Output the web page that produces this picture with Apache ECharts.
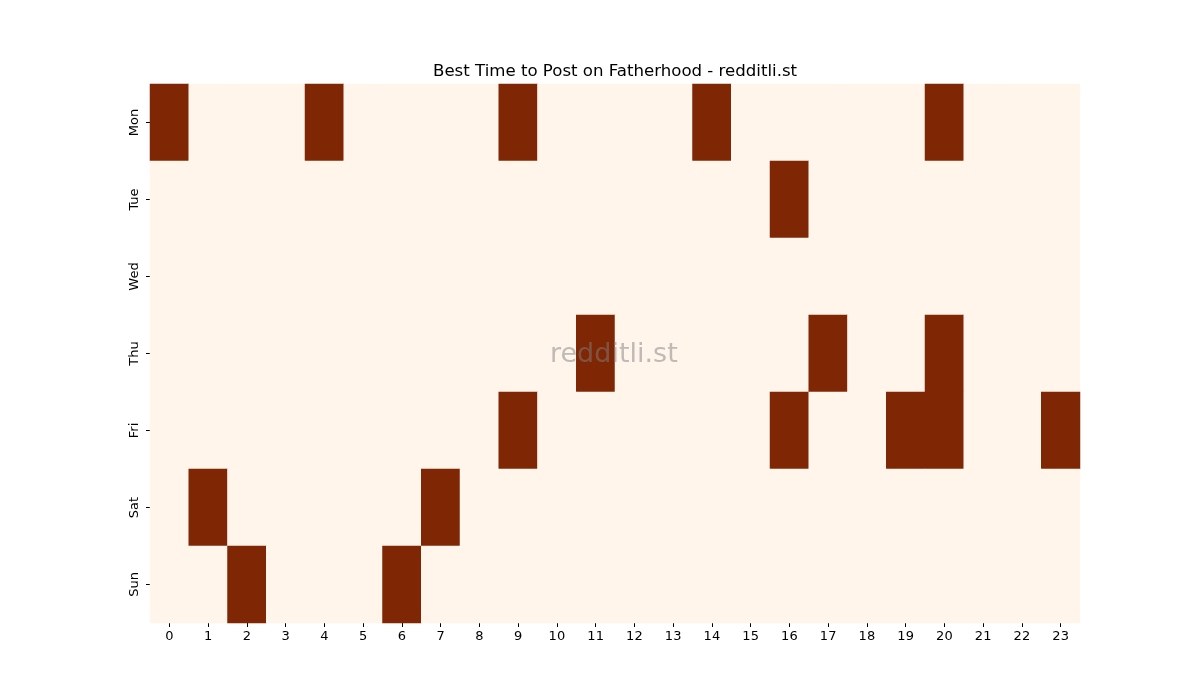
<!DOCTYPE html>
<html>
<head>
<meta charset="utf-8">
<script src="https://cdn.jsdelivr.net/npm/echarts@6/dist/echarts.min.js"></script>
<style>
    html, body { margin: 0; padding: 0; background: #fff; }
    #chart { width: 1200px; height: 700px; }
</style>
</head>
<body>
<div id="chart"></div>
<script>
const HOURS = [
    '0', '1', '2', '3', '4', '5', '6', '7', '8', '9', '10', '11',
    '12', '13', '14', '15', '16', '17', '18', '19', '20', '21', '22', '23'
]

const DAYS = ['Mon', 'Tue', 'Wed', 'Thu', 'Fri', 'Sat', 'Sun']

// hours marked as best time, per day
const MON = [0, 4, 9, 14, 20]
const TUE = [16]
const WED = []
const THU = [11, 17, 20]
const FRI = [9, 16, 19, 20, 23]
const SAT = [1, 7]
const SUN = [2, 6]

const BEST_HOURS = [MON, TUE, WED, THU, FRI, SAT, SUN]

let cells = []
for (let d = 0; d < DAYS.length; d++) {
    for (let h = 0; h < HOURS.length; h++) {
        let v = BEST_HOURS[d].indexOf(h) >= 0 ? 1 : 0
        cells.push([h, d, v])
    }
}

const FONT = 'DejaVu Sans'

let option = {
    animation: false,
    title: {
        text: 'Best Time to Post on Fatherhood - redditli.st',
        left: 428,
        top: 58,
        textStyle: { fontFamily: FONT, fontSize: 16.6, fontWeight: 'normal', color: '#000' }
    },
    grid: { left: 150, right: 120, top: 84, bottom: 77 },
    xAxis: {
        type: 'category',
        data: HOURS,
        axisLine: { show: false },
        axisTick: { show: true, alignWithLabel: true, length: 4, lineStyle: { color: '#000' } },
        axisLabel: { fontFamily: FONT, fontSize: 13, color: '#000', margin: 7 },
        splitLine: { show: false }
    },
    yAxis: {
        type: 'category',
        data: DAYS,
        inverse: true,
        axisLine: { show: false },
        axisTick: { show: true, alignWithLabel: true, length: 4, lineStyle: { color: '#000' } },
        axisLabel: { fontFamily: FONT, fontSize: 13, color: '#000', rotate: 90, margin: 9 },
        splitLine: { show: false }
    },
    visualMap: {
        show: false,
        min: 0,
        max: 1,
        inRange: { color: ['#fff5eb', '#7f2704'] }
    },
    series: [
        {
            type: 'heatmap',
            data: cells,
            itemStyle: { borderWidth: 0 },
            emphasis: { disabled: true }
        }
    ],
    graphic: [
        {
            type: 'text',
            left: 550,
            top: 341,
            style: {
                text: 'redditli.st',
                font: '27px "DejaVu Sans"',
                fill: 'rgba(128,128,128,0.5)'
            },
            z: 100
        }
    ]
};

let chart = echarts.init(document.getElementById('chart'));
chart.setOption(option);
</script>
</body>
</html>
